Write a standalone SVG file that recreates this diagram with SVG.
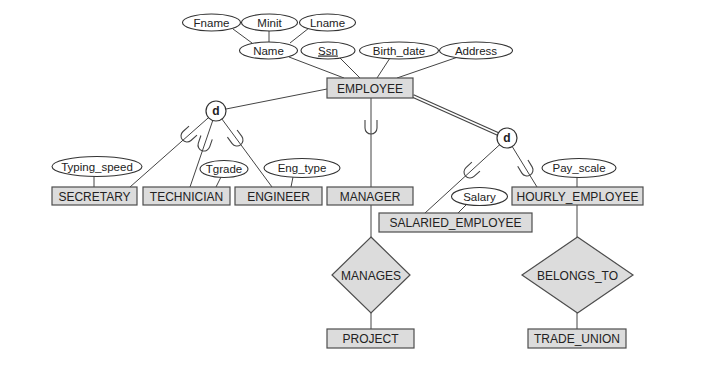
<svg xmlns="http://www.w3.org/2000/svg" xmlns:xlink="http://www.w3.org/1999/xlink" width="708" height="378" viewBox="0 0 708 378">
<style>
.ent{fill:#dcdcdc;stroke:#4d4d4d;stroke-width:1.2}
.rel{fill:#dcdcdc;stroke:#4d4d4d;stroke-width:1.2}
.att{fill:#fff;stroke:#333;stroke-width:1.1}
.circ{fill:#fff;stroke:#333;stroke-width:1.2}
.ln{stroke:#444;stroke-width:1;fill:none}
.sub{stroke:#444;stroke-width:1.1;fill:none}
text{font-family:"Liberation Sans",Arial,Helvetica,sans-serif;font-size:12px;fill:#222;text-anchor:middle}
.a{font-size:11.5px}
.d{font-weight:bold}
</style>
<defs>
<path id="u" d="M-8,-6 L0,-6 A6,6 0 0 1 0,6 L-8,6"/>
</defs>
<rect width="708" height="378" fill="#fff"/>
<g id="connectors">
<line class="ln" x1="233" y1="29" x2="252" y2="43"/>
<line class="ln" x1="269" y1="30" x2="269" y2="42"/>
<line class="ln" x1="309" y1="28" x2="290" y2="43"/>
<line class="ln" x1="289" y1="57" x2="344" y2="78"/>
<line class="ln" x1="340" y1="58" x2="360" y2="78"/>
<line class="ln" x1="390" y1="58" x2="377" y2="78"/>
<line class="ln" x1="458" y1="57" x2="397" y2="78"/>
<line class="ln" x1="327" y1="89" x2="216" y2="111"/>
<line x1="413" y1="96" x2="507" y2="138" stroke="#444" stroke-width="4"/>
<line x1="413" y1="96" x2="507" y2="138" stroke="#fff" stroke-width="1.6"/>
<line class="ln" x1="216" y1="111" x2="130" y2="187"/>
<line class="ln" x1="216" y1="111" x2="190" y2="187"/>
<line class="ln" x1="216" y1="111" x2="272" y2="187"/>
<line class="ln" x1="507" y1="138" x2="425" y2="213"/>
<line class="ln" x1="507" y1="138" x2="537" y2="187"/>
<line class="ln" x1="371" y1="98" x2="371" y2="187"/>
<line class="ln" x1="371" y1="205" x2="371" y2="237"/>
<line class="ln" x1="371" y1="313" x2="371" y2="329"/>
<line class="ln" x1="577" y1="205" x2="577" y2="237"/>
<line class="ln" x1="577" y1="313" x2="577" y2="329"/>
<line class="ln" x1="94" y1="176" x2="94" y2="187"/>
<line class="ln" x1="221" y1="177" x2="216" y2="187"/>
<line class="ln" x1="293" y1="177" x2="291" y2="187"/>
<line class="ln" x1="467" y1="204" x2="458" y2="213"/>
<line class="ln" x1="577" y1="177" x2="577" y2="187"/>
<use xlink:href="#u" class="sub" transform="translate(371,128) rotate(90)"/>
<use xlink:href="#u" class="sub" transform="translate(187,136) rotate(138.5)"/>
<use xlink:href="#u" class="sub" transform="translate(204,145) rotate(108.9)"/>
<use xlink:href="#u" class="sub" transform="translate(237,140) rotate(53.6)"/>
<use xlink:href="#u" class="sub" transform="translate(470,172) rotate(137.6)"/>
<use xlink:href="#u" class="sub" transform="translate(527,170) rotate(58.5)"/>
</g>
<g id="Fname"><ellipse class="att" cx="211.5" cy="22.5" rx="29" ry="8.5"/><text class="a" x="211.5" y="26.5">Fname</text></g>
<g id="Minit"><ellipse class="att" cx="269.5" cy="22.5" rx="28" ry="8.5"/><text class="a" x="269.5" y="26.5">Minit</text></g>
<g id="Lname"><ellipse class="att" cx="327.5" cy="22.5" rx="28" ry="8.5"/><text class="a" x="327.5" y="26.5">Lname</text></g>
<g id="Name"><ellipse class="att" cx="268.5" cy="50.5" rx="29" ry="8.5"/><text class="a" x="268.5" y="54.5">Name</text></g>
<g id="Ssn"><ellipse class="att" cx="328" cy="50.5" rx="27" ry="8.5"/><text class="a" x="328" y="54.5" text-decoration="underline">Ssn</text></g>
<g id="Birth_date"><ellipse class="att" cx="399" cy="50.5" rx="39.5" ry="8.5"/><text class="a" x="399" y="54.5">Birth_date</text></g>
<g id="Address"><ellipse class="att" cx="476" cy="50.5" rx="36.5" ry="8.5"/><text class="a" x="476" y="54.5">Address</text></g>
<g id="EMPLOYEE"><rect class="ent" x="327" y="78" width="86" height="20"/><text x="370" y="92.5">EMPLOYEE</text></g>
<g id="d1"><circle class="circ" cx="216" cy="111" r="10"/><text class="d" x="216" y="115">d</text></g>
<g id="d2"><circle class="circ" cx="507" cy="138" r="10"/><text class="d" x="507" y="142">d</text></g>
<g id="Typing_speed"><ellipse class="att" cx="97" cy="166.5" rx="45" ry="10"/><text class="a" x="97" y="170.5">Typing_speed</text></g>
<g id="Tgrade"><ellipse class="att" cx="224" cy="169" rx="24" ry="8.5"/><text class="a" x="224" y="173">Tgrade</text></g>
<g id="Eng_type"><ellipse class="att" cx="302" cy="168" rx="38" ry="9.5"/><text class="a" x="302" y="172">Eng_type</text></g>
<g id="Pay_scale"><ellipse class="att" cx="579" cy="168" rx="37" ry="9.5"/><text class="a" x="579" y="172">Pay_scale</text></g>
<g id="Salary"><ellipse class="att" cx="479.5" cy="196.5" rx="28" ry="9"/><text class="a" x="479.5" y="200.5">Salary</text></g>
<g id="SECRETARY"><rect class="ent" x="52" y="187" width="85" height="18"/><text x="94.5" y="200.5">SECRETARY</text></g>
<g id="TECHNICIAN"><rect class="ent" x="143" y="187" width="87" height="18"/><text x="186.5" y="200.5">TECHNICIAN</text></g>
<g id="ENGINEER"><rect class="ent" x="235" y="187" width="87" height="18"/><text x="278.5" y="200.5">ENGINEER</text></g>
<g id="MANAGER"><rect class="ent" x="327" y="187" width="86" height="18"/><text x="370" y="200.5">MANAGER</text></g>
<g id="HOURLY_EMPLOYEE"><rect class="ent" x="512" y="187" width="131" height="18"/><text x="577.5" y="200.5">HOURLY_EMPLOYEE</text></g>
<g id="SALARIED_EMPLOYEE"><rect class="ent" x="379" y="213" width="153" height="19"/><text x="455.5" y="227">SALARIED_EMPLOYEE</text></g>
<g id="MANAGES"><polygon class="rel" points="371,237 410,275 371,313 332,275"/><text x="371" y="279.5">MANAGES</text></g>
<g id="BELONGS_TO"><polygon class="rel" points="577.5,237 633,275 577.5,313 522,275"/><text x="577.5" y="279.5">BELONGS_TO</text></g>
<g id="PROJECT"><rect class="ent" x="327" y="329" width="87" height="19"/><text x="370.5" y="343">PROJECT</text></g>
<g id="TRADE_UNION"><rect class="ent" x="528" y="329" width="98" height="19"/><text x="577" y="343">TRADE_UNION</text></g>
</svg>
